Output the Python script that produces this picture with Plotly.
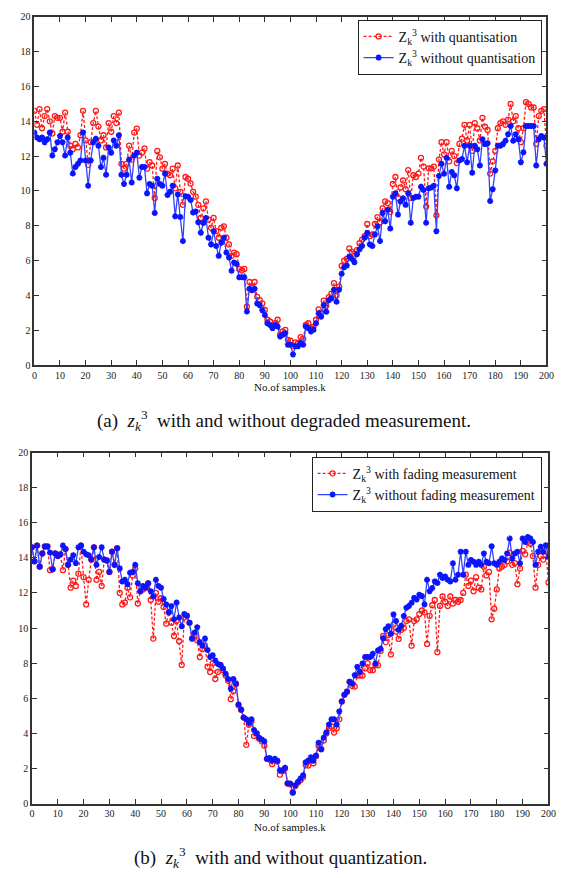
import plotly.graph_objects as go

W, H = 579, 878

samples = list(range(201))
x_ticks = list(range(0, 201, 10))
y_ticks = list(range(0, 21, 2))

# (a) top panel
top_with_quant = [
    14.6,13.8,14.7,13.6,14.3,14.7,14.0,13.3,14.3,14.2, 14.2,13.4,14.5,13.4,12.6,12.4,12.7,12.5,13.2,14.6,
    12.9,11.5,12.8,13.9,14.6,13.7,12.9,13.2,12.5,13.9, 13.4,14.3,13.9,14.5,11.56,11.28,11.56,12.6,11.8,13.35,
    13.58,12.03,12.2,12.44,11.28,11.65,11.46,9.6,12.3,11.93, 11.28,11.56,10.99,10.9,11.28,10.15,11.46,9.95,9.2,10.8,
    10.7,10.43,9.95,9.67,9.2,8.45,9.0,9.4,8.35,7.88, 8.45,7.69,7.31,7.88,7.97,7.31,6.93,6.27,6.46,6.37,
    5.52,5.43,5.52,3.35,4.77,4.48,4.77,3.92,3.73,3.54, 3.16,2.6,2.5,2.21,2.4,2.6,1.74,1.93,2.02,1.45,
    1.4,1.1,1.3,1.25,1.6,1.5,2.3,2.4,2.1,2.2, 2.6,3.2,3.0,3.7,3.4,3.9,4.1,4.7,4.0,4.5,
    5.7,6.0,6.1,6.7,6.5,6.4,6.6,7.0,7.2,7.4, 8.1,7.4,7.5,8.1,8.5,8.2,9.0,9.4,9.3,8.8,
    10.4,10.8,9.6,10.2,10.6,10.1,11.2,9.6,10.9,10.8, 11.0,11.9,11.4,9.1,11.3,11.3,11.4,8.6,11.8,12.8,
    12.1,12.8,11.7,12.3,12.0,11.6,12.7,13.0,13.8,12.9, 13.8,12.3,13.9,13.6,12.9,14.2,13.7,13.5,11.0,11.7,
    12.3,13.6,13.9,14.0,13.8,14.1,15.0,14.0,14.3,13.6, 12.8,13.6,15.1,15.0,14.8,14.8,12.7,14.3,14.6,14.7,
    12.6,
]
top_without_quant = [
    13.35,13.07,12.97,13.07,12.8,12.97,13.35,12.03,12.4,12.8, 13.16,12.8,12.03,13.07,12.2,11.0,11.37,11.56,11.75,13.35,
    11.75,10.3,11.75,12.8,13.0,12.6,11.37,11.9,10.93,12.5, 12.2,12.9,12.6,13.2,10.93,10.4,10.93,11.8,10.48,12.03,
    12.2,10.76,11.37,11.37,9.86,10.4,10.3,8.73,10.7,10.4, 10.3,11.0,9.77,9.95,10.3,8.54,9.8,8.5,7.12,9.7,
    9.67,9.48,8.76,8.82,8.2,7.6,8.16,8.44,7.31,6.93, 7.69,6.84,6.27,7.03,7.31,6.46,6.18,5.42,5.89,5.8,
    5.04,5.04,5.04,3.07,4.38,4.29,4.38,3.53,3.44,3.15, 2.87,2.4,2.3,2.12,2.3,2.21,1.64,1.74,1.83,1.17,
    1.17,0.61,1.08,1.08,1.27,1.17,2.21,2.12,1.93,2.02, 2.4,2.97,2.78,3.44,3.06,3.72,3.82,4.33,3.63,4.33,
    5.24,5.62,5.71,6.22,6.09,5.9,6.37,6.65,6.84,7.31, 7.59,6.93,6.84,7.5,7.97,7.12,8.73,8.26,8.92,7.84,
    9.67,9.86,8.64,9.39,9.58,9.2,9.86,8.17,9.6,9.67, 9.67,10.24,10.05,8.17,10.15,10.2,10.3,7.69,10.86,11.56,
    10.99,11.9,10.24,11.09,10.9,10.15,11.75,11.84,12.6,11.65, 12.6,11.05,12.6,12.4,11.46,12.97,12.69,12.74,9.42,10.1,
    11.18,12.6,12.6,12.69,12.88,13.26,13.73,12.88,13.26,12.97, 11.65,12.22,13.73,13.73,13.73,13.73,11.46,12.97,13.16,13.07,
    11.56,
]

# (b) bottom panel
bot_with_fading = [
    14.6,13.8,14.7,13.5,14.25,14.65,14.65,13.3,13.35,14.25, 14.1,14.2,13.3,14.5,13.6,12.3,12.7,12.4,13.1,14.7,
    12.9,11.35,12.75,13.9,14.6,12.75,13.2,12.4,13.9,13.85, 13.2,14.35,13.6,14.55,12.0,11.35,11.45,12.3,11.75,13.0,
    13.4,11.4,12.1,12.2,12.3,12.55,11.6,9.4,12.0,11.5, 11.7,11.2,10.25,10.9,10.3,9.55,10.4,9.25,7.9,10.6,
    10.7,10.3,9.4,9.6,9.3,8.35,8.8,9.0,7.8,7.5, 8.0,7.1,7.5,7.9,7.6,7.3,7.0,5.95,6.4,6.8,
    5.6,5.35,4.9,3.35,4.5,4.7,3.85,4.0,3.7,3.55, 3.3,2.55,2.5,2.25,2.5,2.4,1.65,1.85,2.0,1.15,
    1.1,0.65,1.0,1.2,1.33,1.5,2.2,2.17,2.5,2.3, 2.7,3.3,3.1,3.6,4.0,4.3,4.4,4.05,4.3,4.8,
    5.82,6.2,6.38,6.94,6.7,6.67,7.3,7.3,7.3,7.7, 8.0,7.6,7.6,7.9,7.88,8.7,9.56,9.2,9.6,8.5,
    10.2,9.8,9.38,9.9,10.0,10.4,10.5,9.0,10.4,10.5, 10.8,11.0,10.9,9.1,10.7,11.3,11.6,8.63,11.26,11.8,
    11.5,11.26,11.8,11.4,11.6,11.5,11.6,12.0,13.04,12.4, 12.7,12.1,12.9,12.3,12.2,13.5,13.0,13.2,10.5,11.1,
    12.2,13.4,13.5,13.6,13.8,14.3,13.6,13.7,12.5,13.4, 14.4,14.2,14.9,14.8,14.1,12.3,13.6,14.1,13.9,14.4,
    12.6,
]
bot_without_fading = [
    14.6,13.8,14.7,13.5,14.25,14.65,14.65,14.3,13.35,14.25, 14.1,14.2,14.7,14.5,13.6,13.9,14.15,13.7,14.6,14.7,
    14.35,14.2,14.15,13.9,14.6,13.6,14.05,14.6,13.9,13.85, 13.2,14.35,13.6,14.55,13.4,12.65,12.75,12.5,13.15,13.2,
    13.6,12.55,12.1,12.4,12.3,12.55,12.1,11.8,12.75,12.4, 12.3,11.65,11.35,10.9,11.25,10.5,11.45,10.6,10.1,10.8,
    10.7,10.3,9.4,9.75,10.05,9.2,9.0,9.4,8.75,8.35, 8.45,8.15,7.95,7.9,7.7,7.4,7.1,6.55,7.1,6.85,
    5.65,5.35,4.9,4.8,4.6,4.8,4.2,4.0,3.75,3.65, 3.55,2.55,2.6,2.45,2.55,2.45,1.9,1.9,2.05,1.15,
    1.15,0.62,1.05,1.24,1.43,1.62,2.36,2.45,2.64,2.45, 2.74,3.47,3.1,3.76,4.05,4.51,4.8,4.8,4.5,5.25,
    5.82,6.2,6.38,6.94,6.85,7.32,7.79,7.5,7.98,8.35, 8.35,8.35,8.54,7.98,8.73,8.82,9.42,9.94,10.1,9.67,
    10.78,10.4,9.9,10.13,10.69,11.16,11.26,11.44,11.72,11.63, 11.9,11.82,11.35,12.75,12.1,12.28,12.66,12.57,13.04,12.85,
    12.94,12.75,12.66,13.69,12.75,13.04,14.35,13.04,14.35,13.6, 13.88,13.78,13.6,13.78,13.6,14.25,13.78,13.69,14.66,13.69,
    13.6,13.78,13.97,13.88,14.25,15.1,13.97,14.25,14.35,13.69, 15.1,14.9,15.19,15.1,14.9,13.6,14.35,14.63,14.35,14.72,
    14.06,
]

SERIF = "'Liberation Serif', 'DejaVu Serif', serif"
RED = "#ff1a1a"
BLUE = "#0a14ff"

fig = go.Figure()

def red_trace(y, name, xa, ya, legend):
    return go.Scatter(
        x=samples, y=y, name=name, xaxis=xa, yaxis=ya, legend=legend,
        mode="lines+markers",
        line=dict(color=RED, width=1.3, dash="3px,2px"),
        marker=dict(symbol="circle-open", size=5, color=RED, line=dict(width=1.3, color=RED)),
    )

def blue_trace(y, name, xa, ya, legend):
    return go.Scatter(
        x=samples, y=y, name=name, xaxis=xa, yaxis=ya, legend=legend,
        mode="lines+markers",
        line=dict(color="#3344ff", width=1.3),
        marker=dict(symbol="asterisk-open", size=5, color=BLUE, line=dict(width=1.8, color=BLUE)),
    )

zk = "Z<sub>k</sub><sup>3</sup>"
fig.add_trace(red_trace(top_with_quant, f"{zk} with quantisation", "x", "y", "legend"))
fig.add_trace(blue_trace(top_without_quant, f"{zk} without quantisation", "x", "y", "legend"))
fig.add_trace(red_trace(bot_with_fading, f"{zk} with fading measurement", "x2", "y2", "legend2"))
fig.add_trace(blue_trace(bot_without_fading, f"{zk} without fading measurement", "x2", "y2", "legend2"))

def px_x(v):
    return v / W

def px_y(v):
    return 1 - v / H

axis_common = dict(
    showline=True, linecolor="#333333", linewidth=1.6, mirror="allticks",
    ticks="inside", ticklen=5, tickwidth=1.2, tickcolor="#333333",
    showgrid=False, zeroline=False,
    tickfont=dict(family=SERIF, size=10, color="#222222"),
)

legend_common = dict(
    xanchor="right", yanchor="top",
    bgcolor="white", bordercolor="#222222", borderwidth=1,
    font=dict(family=SERIF, size=14, color="#111111"),
    itemwidth=30, tracegroupgap=0,
)

fig.update_layout(
    width=W, height=H,
    margin=dict(l=0, r=0, t=0, b=0),
    paper_bgcolor="white", plot_bgcolor="white",
    xaxis=dict(domain=[px_x(32), px_x(554)], anchor="y", range=[0, 200],
               tickvals=x_ticks, ticktext=[str(v) for v in x_ticks], **axis_common),
    yaxis=dict(domain=[px_y(364), px_y(11)], anchor="x", range=[0, 20],
               tickvals=y_ticks, ticktext=[str(v) for v in y_ticks], **axis_common),
    xaxis2=dict(domain=[px_x(29.5), px_x(556)], anchor="y2", range=[0, 200],
                tickvals=x_ticks, ticktext=[str(v) for v in x_ticks], **axis_common),
    yaxis2=dict(domain=[px_y(808.7), px_y(452.7)], anchor="x2", range=[0, 20],
                tickvals=y_ticks, ticktext=[str(v) for v in y_ticks], **axis_common),
    legend=dict(x=px_x(549), y=px_y(14), **legend_common),
    legend2=dict(x=px_x(549), y=px_y(457), **legend_common),
    showlegend=True,
)

annotations = [
    dict(text="No.of samples.k", x=px_x(293), y=px_y(386), xref="paper", yref="paper",
         xanchor="center", yanchor="middle",
         showarrow=False, font=dict(family=SERIF, size=11, color="#111111")),
    dict(text="No.of samples.k", x=px_x(293), y=px_y(832), xref="paper", yref="paper",
         xanchor="center", yanchor="middle",
         showarrow=False, font=dict(family=SERIF, size=11, color="#111111")),
    dict(text="(a)  <i>z</i><sub><i>k</i></sub><sup>3</sup>  with and without degraded measurement.",
         x=px_x(286), y=px_y(420), xref="paper", yref="paper",
         xanchor="center", yanchor="middle",
         showarrow=False, font=dict(family=SERIF, size=19, color="#111111")),
    dict(text="(b)  <i>z</i><sub><i>k</i></sub><sup>3</sup>  with and without quantization.",
         x=px_x(283), y=px_y(863), xref="paper", yref="paper",
         xanchor="center", yanchor="middle",
         showarrow=False, font=dict(family=SERIF, size=19, color="#111111")),
]
fig.update_layout(annotations=annotations)

fig.write_html("out.html")
